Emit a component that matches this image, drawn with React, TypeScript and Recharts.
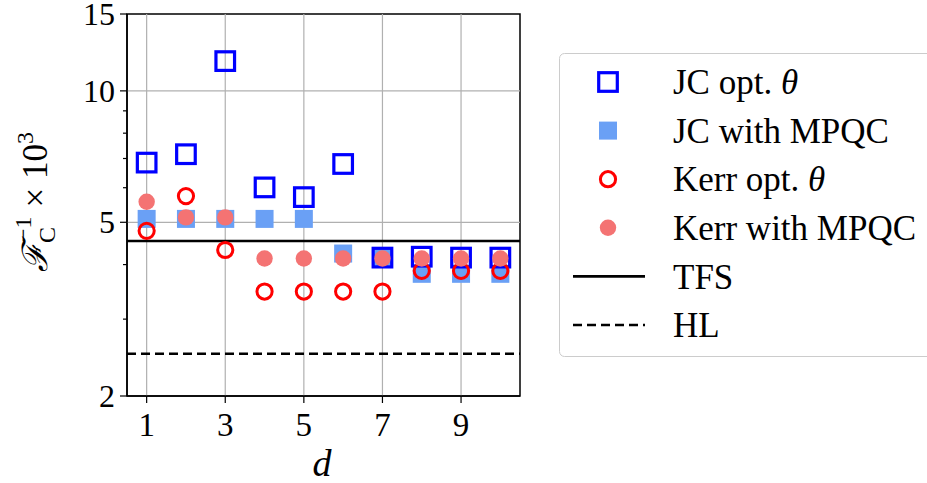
import React from 'react';
import { ScatterChart, Scatter, XAxis, YAxis, ReferenceLine, ReferenceArea } from 'recharts';

const dValues = [1, 2, 3, 4, 5, 6, 7, 8, 9, 10];
const jcOpt = [6.85, 7.16, 11.7, 6.01, 5.71, 6.8, 4.15, 4.17, 4.15, 4.15];
const jcMpqc = [5.09, 5.09, 5.09, 5.09, 5.09, 4.24, 4.15, 3.81, 3.81, 3.81];
const kerrOpt = [4.78, 5.74, 4.32, 3.47, 3.47, 3.47, 3.47, 3.87, 3.87, 3.87];
const kerrMpqc = [5.57, 5.13, 5.13, 4.13, 4.13, 4.13, 4.13, 4.13, 4.13, 4.13];
const tfsLevel = 4.53;
const hlLevel = 2.5;

const xTicks = [1, 3, 5, 7, 9];
const yTicks = [2, 3, 4, 5, 6, 7, 8, 9, 10, 15];
const yMajor = [2, 5, 10, 15];

const FONT = '"Liberation Serif", "DejaVu Serif", serif';

const toPoints = (vals: number[]) => dValues.map((d, i) => ({ d, v: vals[i] }));

const OpenSquare = (p: any) => (
  <rect x={p.cx - 9.3} y={p.cy - 9.3} width={18.6} height={18.6} fill="none" stroke="#0000ff" strokeWidth={3.2} />
);
const FilledSquare = (p: any) => (
  <rect x={p.cx - 9} y={p.cy - 9} width={18} height={18} fill="#6aa0f5" />
);
const OpenCircle = (p: any) => (
  <circle cx={p.cx} cy={p.cy} r={7.6} fill="none" stroke="#ff0000" strokeWidth={3} />
);
const FilledCircle = (p: any) => <circle cx={p.cx} cy={p.cy} r={8.2} fill="#f47373" />;

const YTick = (props: any) => {
  const { x, y, payload } = props;
  const major = yMajor.includes(payload.value);
  return (
    <g>
      <line x1={x - (major ? 7 : 4)} x2={x} y1={y} y2={y} stroke="#000" strokeWidth={1.2} />
      {major && (
        <text x={x - 12} y={y} dy="0.35em" textAnchor="end" fontSize={32} fontFamily={FONT} fill="#000">
          {payload.value}
        </text>
      )}
    </g>
  );
};

const legendRows = [
  { label: 'JC opt. ', theta: true, kind: 'osq' },
  { label: 'JC with MPQC', theta: false, kind: 'fsq' },
  { label: 'Kerr opt. ', theta: true, kind: 'oci' },
  { label: 'Kerr with MPQC', theta: false, kind: 'fci' },
  { label: 'TFS', theta: false, kind: 'solid' },
  { label: 'HL', theta: false, kind: 'dash' },
];

export default function App() {
  return (
    <div style={{ position: 'absolute', left: 0, top: 0, width: 927, height: 483, overflow: 'hidden', background: '#fff' }}>
      <ScatterChart width={927} height={483} margin={{ top: 14, right: 407, bottom: 47, left: 67 }}>
        <XAxis
          dataKey="d"
          type="number"
          domain={[0.5, 10.5]}
          ticks={xTicks}
          allowDataOverflow
          height={40}
          tickSize={7}
          tickMargin={10}
          axisLine={{ stroke: '#000', strokeWidth: 1.5 }}
          tickLine={{ stroke: '#000', strokeWidth: 1.2 }}
          tick={{ fontSize: 33, fill: '#000', fontFamily: FONT }}
        />
        <YAxis
          dataKey="v"
          type="number"
          scale="log"
          domain={[2, 15]}
          ticks={yTicks}
          allowDataOverflow
          interval={0}
          width={60}
          tickSize={0}
          tickMargin={0}
          tickLine={false}
          axisLine={{ stroke: '#000', strokeWidth: 1.5 }}
          tick={<YTick />}
        />
        <Scatter data={toPoints(jcMpqc)} shape={FilledSquare} isAnimationActive={false} />
        <Scatter data={toPoints(jcOpt)} shape={OpenSquare} isAnimationActive={false} />
        <Scatter data={toPoints(kerrOpt)} shape={OpenCircle} isAnimationActive={false} />
        <Scatter data={toPoints(kerrMpqc)} shape={FilledCircle} isAnimationActive={false} />
        {xTicks.map((t) => (
          <ReferenceLine key={'gx' + t} x={t} stroke="#b0b0b0" strokeWidth={1.2} />
        ))}
        {[5, 10].map((t) => (
          <ReferenceLine key={'gy' + t} y={t} stroke="#b0b0b0" strokeWidth={1.2} />
        ))}
        <ReferenceLine y={tfsLevel} stroke="#000" strokeWidth={2.6} />
        <ReferenceLine y={hlLevel} stroke="#000" strokeWidth={2.6} strokeDasharray="9 5" />
        <ReferenceArea x1={0.5} x2={10.5} y1={2} y2={15} fill="none" stroke="#000" strokeWidth={1.5} />
      </ScatterChart>

      <svg width={927} height={483} style={{ position: 'absolute', left: 0, top: 0, pointerEvents: 'none' }}>
        <g transform="translate(47, 202) rotate(-90)">
          <text x={0} y={0} textAnchor="middle" fontSize={35} fontFamily={FONT} fill="#000">
            <tspan fontFamily='"DejaVu Serif", serif' fontStyle="italic">ℱ</tspan>
            <tspan fontSize={24} dy={8}>C</tspan>
            <tspan fontSize={24} dx={-15} dy={-24}>−1</tspan>
            <tspan fontSize={35} dx={9} dy={16}>× 10</tspan>
            <tspan fontSize={24} dy={-14}>3</tspan>
          </text>
        </g>
        <text x={322} y={476} textAnchor="middle" fontSize={38} fontStyle="italic" fontFamily={FONT} fill="#000">
          d
        </text>

        <rect x={559.5} y={53.5} width={400} height={303} rx={5} fill="#fff" stroke="#cccccc" strokeWidth={1} />
        {legendRows.map((r, i) => {
          const cy = 82 + i * 48.6;
          let marker: React.ReactNode = null;
          if (r.kind === 'osq') marker = <OpenSquare cx={608} cy={cy} />;
          if (r.kind === 'fsq') marker = <FilledSquare cx={608} cy={cy} />;
          if (r.kind === 'oci') marker = <OpenCircle cx={608} cy={cy} />;
          if (r.kind === 'fci') marker = <FilledCircle cx={608} cy={cy} />;
          if (r.kind === 'solid') marker = <line x1={573} x2={645} y1={cy} y2={cy} stroke="#000" strokeWidth={2.6} />;
          if (r.kind === 'dash')
            marker = <line x1={573} x2={645} y1={cy} y2={cy} stroke="#000" strokeWidth={2.6} strokeDasharray="9 5" />;
          return (
            <g key={r.label}>
              {marker}
              <text x={673} y={cy} dy="0.35em" fontSize={35} fontFamily={FONT} fill="#000">
                {r.label}
                {r.theta && <tspan fontStyle="italic">θ</tspan>}
              </text>
            </g>
          );
        })}
      </svg>
    </div>
  );
}
